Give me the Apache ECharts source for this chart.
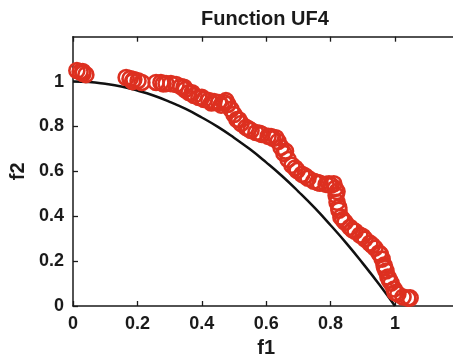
<!DOCTYPE html>
<html>
<head>
<meta charset="utf-8">
<script src="https://cdn.jsdelivr.net/npm/echarts@6/dist/echarts.min.js"></script>
<style>html,body{margin:0;padding:0;background:#fff}#c{width:453px;height:356px}</style>
</head>
<body>
<div id="c"></div>
<script>
// Obtained solutions
var solF1 = [0.012,0.022,0.031,0.040,0.165,0.177,0.189,0.202,0.214,0.258,0.273,0.289,0.304,0.320,0.335,0.348,0.360,0.376,0.391,0.407,0.422,0.438,0.453,0.469,0.481,0.491,0.500,0.509,0.522,0.537,0.553,0.568,0.587,0.606,0.621,0.637,0.646,0.655,0.668,0.680,0.696,0.711,0.730,0.748,0.767,0.786,0.801,0.814,0.817,0.820,0.826,0.832,0.845,0.860,0.876,0.891,0.907,0.922,0.938,0.950,0.960,0.966,0.972,0.978,0.988,0.997,1.009,1.025,1.047,
  0.030,0.185,0.280,0.345,0.370,0.400,0.430,0.460,0.475,0.515,0.545,0.580,0.615,0.630,0.660,0.690,0.720,0.760,0.795,0.810,0.820,0.825,0.838,0.868,0.900,0.930,0.955,0.968,0.983,1.000,1.040];
var solF2 = [1.049,1.044,1.036,1.031,1.018,1.013,1.009,1.004,0.996,0.996,0.996,0.991,0.991,0.987,0.978,0.964,0.951,0.938,0.929,0.920,0.916,0.911,0.907,0.907,0.898,0.876,0.853,0.831,0.813,0.796,0.782,0.773,0.764,0.756,0.747,0.733,0.707,0.680,0.653,0.627,0.604,0.587,0.569,0.556,0.547,0.542,0.538,0.524,0.493,0.462,0.427,0.396,0.373,0.351,0.333,0.316,0.298,0.280,0.258,0.236,0.209,0.182,0.156,0.129,0.102,0.076,0.053,0.040,0.036,
  1.045,1.000,0.990,0.975,0.950,0.930,0.905,0.895,0.915,0.830,0.790,0.770,0.755,0.750,0.690,0.615,0.580,0.550,0.545,0.545,0.510,0.440,0.385,0.340,0.310,0.270,0.230,0.170,0.115,0.060,0.035];
// True front
var frontF1 = [0,0.05,0.1,0.15,0.2,0.25,0.3,0.35,0.4,0.45,0.5,0.55,0.6,0.65,0.7,0.75,0.8,0.85,0.9,0.95,1.0];
var frontF2 = [1,0.998,0.99,0.978,0.96,0.938,0.91,0.878,0.84,0.798,0.75,0.698,0.64,0.578,0.51,0.438,0.36,0.278,0.19,0.098,0];
var xTicks = [0,0.2,0.4,0.6,0.8,1];
var yTicks = [0,0.2,0.4,0.6,0.8,1];

var FONT = '"Liberation Sans", Arial, Helvetica, sans-serif';
var chart = echarts.init(document.getElementById('c'), null, {renderer:'canvas'});
var sol = solF1.map(function(v,i){return [v, solF2[i]];});
var front = frontF1.map(function(v,i){return [v, frontF2[i]];});
var axisLine = {show:true, lineStyle:{color:'#1a1a1a', width:1.5}};
var tick = {show:true, inside:true, length:5, lineStyle:{color:'#1a1a1a', width:1.3}};
var lbl = {color:'#1a1a1a', fontFamily:FONT, fontWeight:'bold', fontSize:18};
chart.setOption({
  animation:false,
  backgroundColor:'#fff',
  title:{text:'Function UF4', left:265, top:9, padding:0, textAlign:'center',
    textStyle:{fontFamily:FONT, fontWeight:'bold', fontSize:20, color:'#1a1a1a'}},
  grid:{left:73, width:386.4, top:36.7, height:269.3, containLabel:false, outerBoundsMode:'none'},
  xAxis:[{type:'value', min:0, max:1.2, interval:0.2, position:'bottom',
    name:'f1', nameLocation:'middle', nameGap:32,
    nameTextStyle:{fontFamily:FONT, fontWeight:'bold', fontSize:20, color:'#1a1a1a'},
    axisLine:axisLine, axisTick:tick, splitLine:{show:false},
    axisLabel:Object.assign({margin:9, showMaxLabel:false, formatter:function(v){return xTicks.indexOf(+v.toFixed(1))>=0? String(+v.toFixed(1)) : '';}}, lbl)},
   {type:'value', min:0, max:1.2, interval:0.2, position:'top',
    axisLine:axisLine, axisTick:tick, splitLine:{show:false}, axisLabel:{show:false}}],
  yAxis:[{type:'value', min:0, max:1.2, interval:0.2,
    name:'f2', nameLocation:'middle', nameGap:45,
    nameTextStyle:{fontFamily:FONT, fontWeight:'bold', fontSize:20, color:'#1a1a1a'},
    axisLine:axisLine, axisTick:tick, splitLine:{show:false},
    axisLabel:Object.assign({margin:9, showMaxLabel:false, formatter:function(v){return yTicks.indexOf(+v.toFixed(1))>=0? String(+v.toFixed(1)) : '';}}, lbl)}],
  series:[
    {type:'line', data:front, smooth:true, symbol:'none', z:2,
     lineStyle:{color:'#111', width:2.5}},
    {type:'scatter', data:sol, symbol:'circle', symbolSize:15, z:3,
     itemStyle:{color:'rgba(0,0,0,0)', borderColor:'#dd3020', borderWidth:2.6, opacity:1}}
  ]
});
</script>
</body>
</html>
